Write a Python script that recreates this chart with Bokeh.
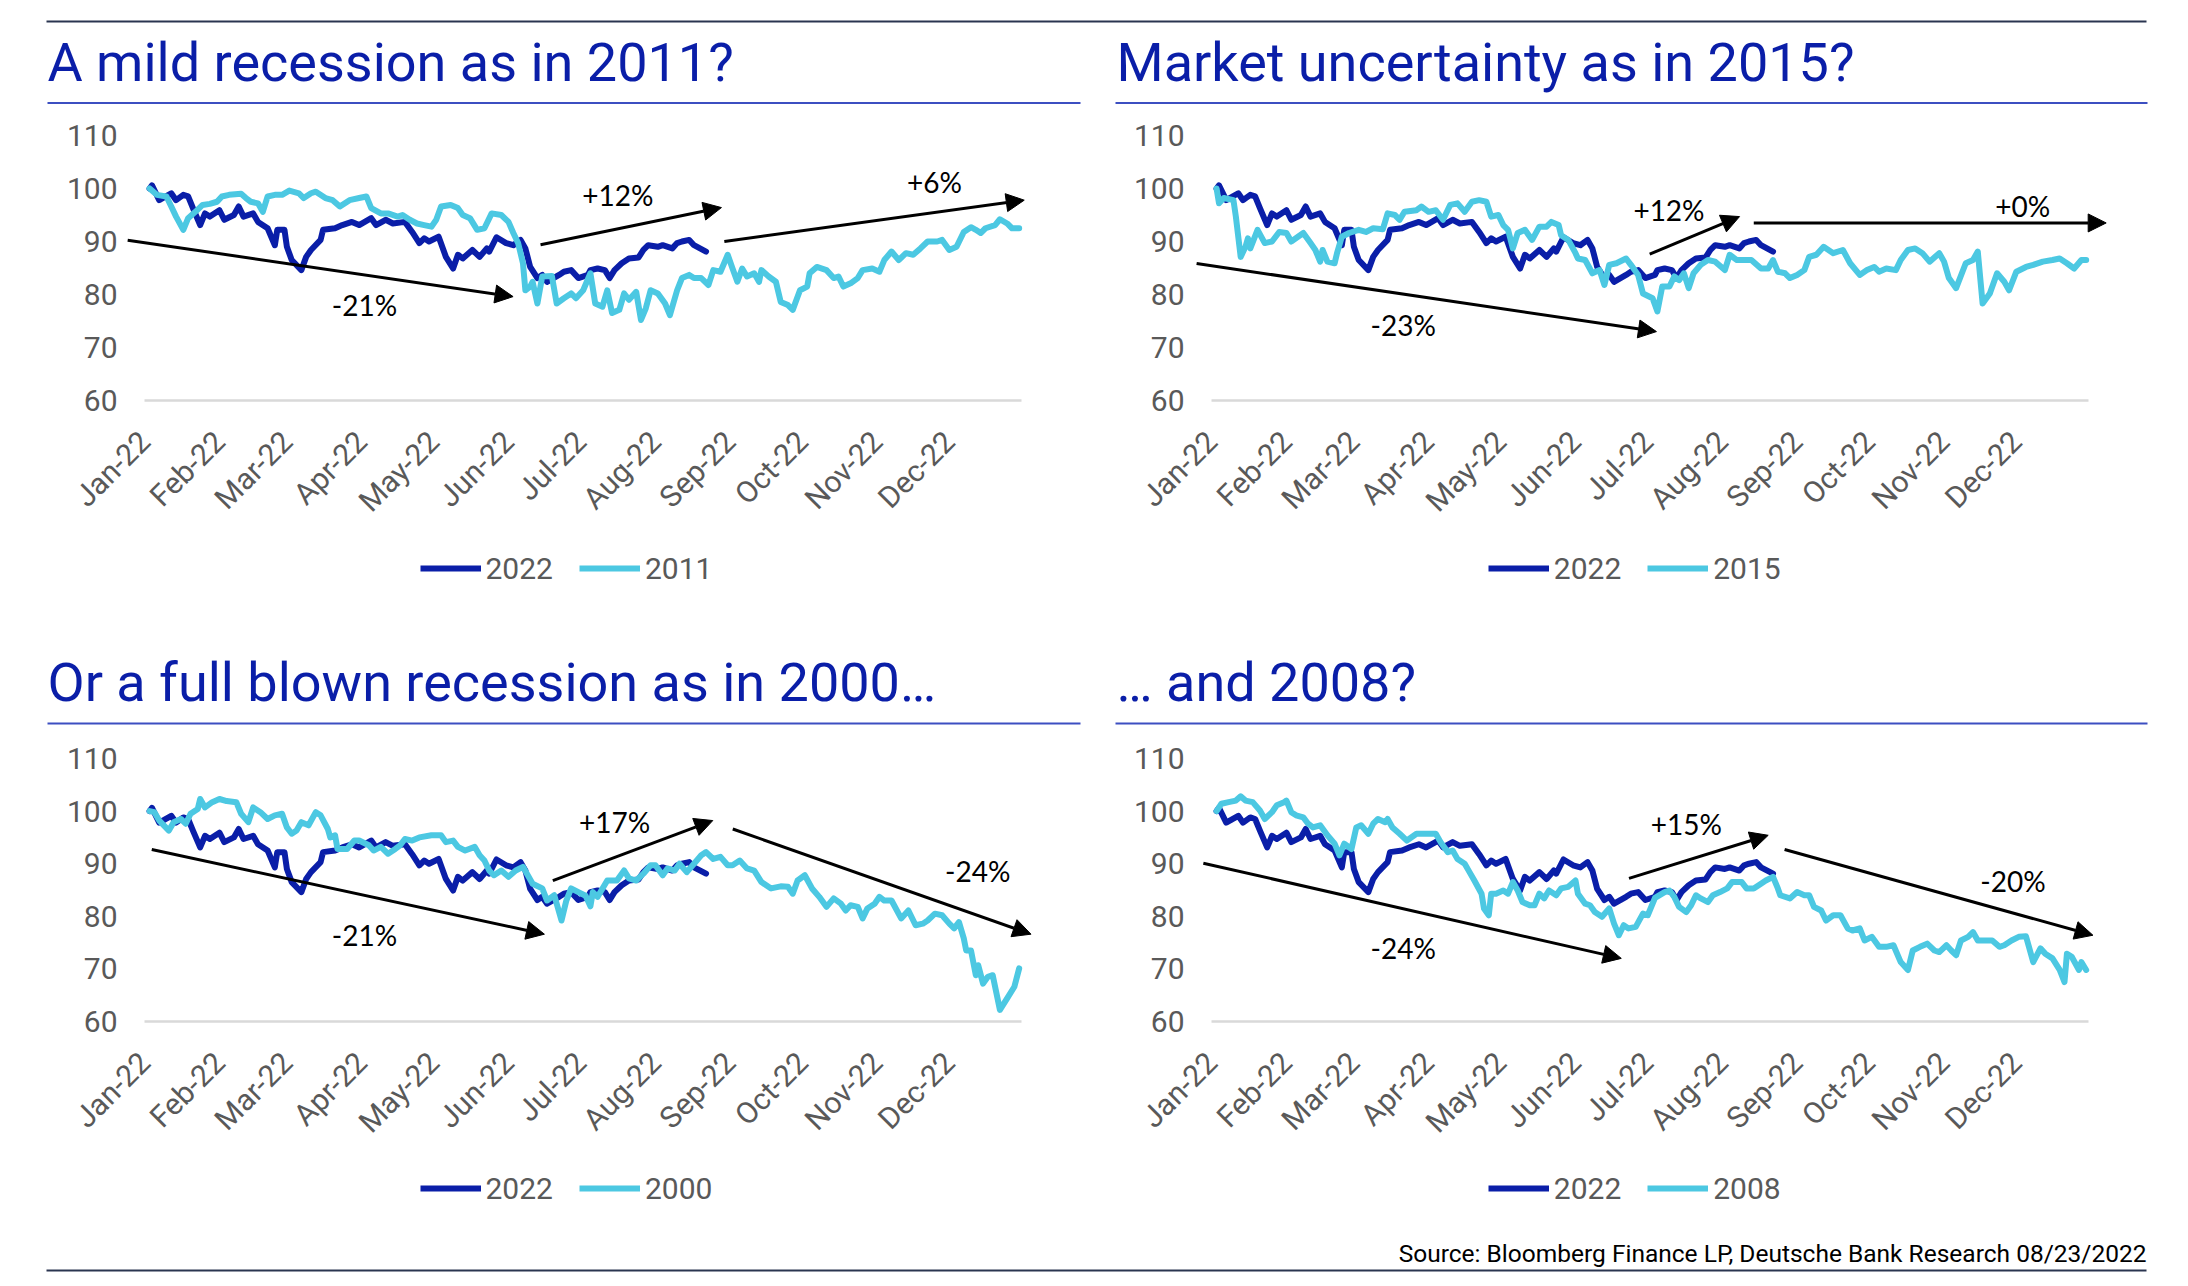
import datetime as dt
import math
from bokeh.plotting import figure
from bokeh.layouts import column, row
from bokeh.models import (Range1d, FixedTicker, DatetimeTickFormatter, Legend, LegendItem,
                          Arrow, NormalHead, Label)
from bokeh.core.properties import value
from bokeh.embed import file_html
from bokeh.resources import INLINE

# ---------------- data ----------------
S2022_DATES = ["01-03","01-04","01-07","01-12","01-14","01-17","01-19","01-21","01-24","01-26","01-28",
  "02-01","02-03","02-07","02-09","02-11","02-15","02-17","02-21","02-24","02-25","02-28",
  "03-01","03-03","03-07","03-09","03-11","03-15","03-16","03-21","03-24","03-28","03-31",
  "04-05","04-07","04-11","04-14","04-19","04-22","04-25","04-27","04-29",
  "05-03","05-06","05-09","05-11","05-13","05-17","05-20","05-23","05-24","05-27","05-31",
  "06-03","06-06","06-08","06-10","06-13","06-15","06-17","06-22","06-24","06-27","06-30",
  "07-04","07-05","07-08","07-11","07-13","07-15","07-18","07-21","07-25","07-27","07-29",
  "08-02","08-04","08-08","08-10","08-12","08-15","08-17","08-22"]
S2022_VALUES = [100.0,100.6,97.8,99.1,97.8,98.8,98.5,96.3,93.1,95.3,94.7,
  95.9,94.1,95.0,96.6,94.7,95.3,93.7,92.5,89.3,92.2,92.2,
  89.0,86.5,84.6,87.1,88.4,90.3,92.2,92.5,93.1,93.7,93.1,
  94.4,93.1,94.1,93.4,93.7,91.8,89.7,90.6,90.0,
  90.9,87.1,84.9,87.5,86.8,88.4,87.1,88.7,88.1,90.8,89.7,
  89.3,90.3,88.7,85.2,83.1,83.7,82.4,83.7,84.3,84.6,83.1,
  83.7,84.6,84.9,84.6,83.1,84.6,85.9,86.8,87.0,88.4,89.3,
  89.0,89.3,88.7,89.7,90.0,90.3,89.3,88.1]

H2011_DATES = ["01-03","01-06","01-10","01-12","01-14","01-17","01-19","01-22","01-25","01-28","01-31",
  "02-02","02-05","02-10","02-12","02-14","02-17","02-19","02-21","02-24","02-27",
  "03-02","03-06","03-08","03-11","03-13","03-17","03-20","03-23","03-27","03-31",
  "04-03","04-05","04-09","04-12","04-16","04-18","04-21","04-24","04-27","04-30",
  "05-02","05-04","05-08","05-11","05-13","05-16","05-19","05-22","05-25","05-29",
  "06-01","06-03","06-05","06-07","06-08","06-10","06-11","06-13","06-15","06-19","06-21","06-24","06-27","06-29",
  "07-02","07-05","07-07","07-10","07-12","07-14","07-17","07-19","07-21","07-24","07-26","07-28","07-30",
  "08-02","08-05","08-07","08-10","08-12","08-15","08-17","08-20","08-23","08-25","08-28","08-31",
  "09-02","09-04","09-06","09-08","09-11","09-13","09-14","09-17","09-20","09-22","09-25","09-27","09-30",
  "10-03","10-04","10-07","10-11","10-14","10-16","10-18","10-21","10-24","10-26","10-30",
  "11-02","11-04","11-07","11-10","11-13","11-16","11-19","11-22","11-26","11-28",
  "12-01","12-04","12-07","12-10","12-12","12-14","12-16","12-20","12-22","12-25","12-27","12-30"]
H2011_VALUES = [100.0,98.8,98.5,96.6,94.7,92.2,94.4,95.6,96.9,97.1,97.5,
  98.5,98.8,99.0,98.2,97.5,97.2,95.6,98.5,98.8,98.8,
  99.6,99.1,98.2,99.1,99.4,98.2,97.8,96.6,97.8,98.2,
  98.5,96.3,95.3,95.3,94.7,95.0,94.1,93.4,93.1,92.8,
  94.1,96.6,96.9,96.3,95.0,94.4,92.2,92.5,95.3,95.0,
  93.7,91.6,89.7,85.9,80.8,81.5,82.4,78.3,83.4,83.5,78.3,79.3,80.2,79.3,
  80.8,84.0,78.3,77.7,80.8,76.5,77.1,80.2,79.0,80.5,75.2,77.4,80.8,
  80.2,78.3,76.1,80.8,83.1,83.7,83.1,83.1,81.8,84.6,84.3,87.5,
  84.9,82.4,84.9,83.4,84.0,82.4,84.6,83.4,82.4,78.6,78.0,77.1,80.8,
  81.5,84.0,85.2,84.6,83.1,83.4,81.5,82.1,83.1,84.6,84.9,
  84.3,86.5,88.1,86.5,87.8,87.5,88.7,90.0,90.0,90.3,
  88.4,89.0,91.8,92.7,92.2,91.6,92.5,93.1,94.2,93.4,92.5,92.5]

H2015_DATES = ["01-03","01-04","01-06","01-10","01-11","01-13","01-15","01-16","01-17","01-20","01-23","01-26","01-29",
  "02-01","02-03","02-08","02-11","02-13","02-15","02-16","02-18","02-21","02-22","02-24","02-27",
  "03-03","03-06","03-09","03-13","03-15","03-18","03-20","03-22","03-27","03-29",
  "04-01","04-04","04-07","04-10","04-13","04-16","04-19","04-22","04-25","04-27","04-30",
  "05-02","05-04","05-06","05-08","05-11","05-14","05-17","05-20","05-22","05-25","05-26","05-29",
  "06-01","06-02","06-05","06-08","06-11","06-13","06-15","06-18","06-22","06-24","06-27","06-29",
  "07-03","07-05","07-07","07-10","07-12","07-14","07-16","07-18","07-20","07-23","07-26","07-29",
  "08-02","08-04","08-07","08-11","08-13","08-17","08-20","08-22","08-24","08-27","08-29",
  "09-01","09-04","09-06","09-09","09-12","09-16","09-20","09-23","09-27","09-30",
  "10-03","10-05","10-08","10-12","10-14","10-17","10-20","10-23","10-26","10-30",
  "11-01","11-03","11-06","11-10","11-13","11-15","11-17","11-20","11-23","11-26","11-28",
  "12-01","12-05","12-08","12-12","12-16","12-19","12-22","12-25","12-28","12-30"]
H2015_VALUES = [100.0,97.2,98.2,97.8,94.7,87.1,89.0,90.6,88.7,92.2,89.7,90.0,91.8,
  91.6,90.0,91.6,89.7,88.4,86.2,88.4,86.2,85.9,87.8,90.9,91.6,
  92.2,91.8,92.5,92.3,95.3,95.0,94.1,95.6,95.9,96.6,
  95.6,95.9,94.1,96.9,97.2,95.6,97.5,97.8,97.5,94.7,95.0,
  93.1,92.2,88.7,91.6,92.2,90.3,92.8,92.8,93.7,93.1,91.2,90.3,
  87.8,86.8,86.5,84.0,84.6,81.8,85.6,85.9,86.8,85.6,83.7,80.2,
  79.3,76.8,81.5,81.5,83.4,82.7,84.0,81.2,84.0,85.6,86.5,86.2,
  84.6,87.5,86.5,86.5,86.5,84.9,84.9,86.5,84.3,84.0,83.1,
  83.7,84.6,87.1,87.5,89.0,87.8,88.4,85.9,83.7,84.6,
  85.2,84.3,84.9,84.6,86.5,88.4,88.7,87.8,86.2,87.8,
  86.2,83.1,81.2,85.9,86.5,88.1,78.3,80.2,84.0,82.4,80.8,
  84.3,85.2,85.6,86.2,86.5,86.8,85.9,84.9,86.5,86.5]

H2000_DATES = ["01-03","01-05","01-07","01-11","01-13","01-16","01-18","01-20","01-23","01-24","01-26","01-29",
  "02-01","02-04","02-08","02-10","02-13","02-15","02-18","02-21","02-24","02-27",
  "03-01","03-03","03-05","03-07","03-10","03-13","03-15","03-18","03-19","03-21","03-22","03-26","03-29","03-31",
  "04-04","04-06","04-09","04-12","04-15","04-17","04-19","04-22","04-25","04-30",
  "05-04","05-06","05-09","05-11","05-14","05-18","05-20","05-22","05-24","05-26","05-29",
  "06-01","06-04","06-07","06-09","06-11","06-15","06-17","06-20","06-23","06-25","06-27","06-30",
  "07-03","07-05","07-06","07-08","07-12","07-16","07-19","07-21","07-24","07-27","07-30",
  "08-01","08-04","08-06","08-09","08-11","08-14","08-17","08-20","08-22","08-25","08-28","08-31",
  "09-02","09-05","09-08","09-11","09-14","09-18","09-22","09-25","09-27","09-29",
  "10-02","10-05","10-08","10-11","10-14","10-17","10-19","10-21","10-24","10-26","10-28","10-31",
  "11-02","11-04","11-07","11-11","11-14","11-17","11-20","11-22","11-25","11-28",
  "12-01","12-03","12-05","12-07","12-08","12-10","12-12","12-13","12-15","12-17","12-19","12-22","12-25","12-28","12-30"]
H2000_VALUES = [100.0,99.8,98.2,96.3,97.9,98.5,97.6,99.5,100.4,102.3,100.7,101.7,
  102.3,101.9,101.7,99.5,97.9,100.7,99.8,98.5,99.2,99.5,
  96.9,95.7,96.3,97.9,97.3,99.8,99.2,96.6,95.0,95.4,92.8,92.8,94.4,94.4,
  93.5,92.5,93.2,91.9,92.8,93.5,94.7,94.4,95.0,95.4,
  95.4,94.1,94.4,93.2,92.5,93.2,91.6,90.6,88.7,87.8,88.7,
  87.5,88.7,89.4,87.8,86.2,85.3,83.0,84.0,79.2,83.0,85.3,84.6,
  83.9,81.9,84.6,83.7,86.8,86.8,88.7,87.2,86.8,88.1,89.7,
  89.7,87.8,89.1,88.7,90.0,88.4,90.0,91.6,92.2,90.9,91.3,89.7,
  89.7,90.6,89.1,88.7,86.5,85.3,85.7,85.6,84.3,86.8,
  87.8,85.3,83.7,81.8,83.4,82.4,81.1,82.1,81.8,79.6,81.5,82.4,
  83.7,83.0,83.0,79.6,81.1,78.3,78.6,79.2,80.5,80.2,
  78.6,77.7,78.9,75.8,73.5,73.5,68.8,70.7,67.2,68.5,68.8,62.2,64.4,66.6,70.1]

H2008_DATES = ["01-03","01-05","01-08","01-11","01-13","01-15","01-18","01-21","01-23","01-26","01-28","01-31",
  "02-01","02-03","02-05","02-08","02-10","02-12","02-15","02-18","02-21","02-23","02-25","02-28",
  "03-02","03-04","03-07","03-09","03-11","03-14","03-15","03-17","03-20","03-23","03-27","03-31",
  "04-04","04-06","04-09","04-11","04-13","04-16","04-18","04-20","04-23","04-24","04-26","04-27","04-29",
  "05-02","05-04","05-06","05-08","05-10","05-13","05-15","05-17","05-19","05-21","05-24","05-26","05-29",
  "06-01","06-02","06-05","06-07","06-09","06-12","06-15","06-17","06-19","06-21","06-23","06-26","06-29",
  "07-01","07-04","07-08","07-10","07-12","07-14","07-17","07-19","07-21","07-23","07-26","07-28","07-31",
  "08-03","08-05","08-09","08-11","08-14","08-17","08-19","08-22","08-24","08-25","08-29",
  "09-01","09-04","09-06","09-08","09-11","09-13","09-16","09-19","09-22","09-24","09-27","09-29",
  "10-02","10-05","10-08","10-11","10-14","10-17","10-19","10-22","10-25","10-28","10-30",
  "11-02","11-04","11-06","11-08","11-11","11-13","11-15","11-18","11-21","11-24","11-26","11-29",
  "12-02","12-05","12-08","12-11","12-13","12-16","12-19","12-21","12-22","12-24","12-27","12-28","12-30"]
H2008_VALUES = [100.0,101.4,101.7,102.0,102.8,102.0,101.7,100.1,98.5,99.8,101.1,101.7,
  102.0,99.8,99.2,98.8,97.6,96.9,97.3,95.4,93.8,91.6,93.8,92.8,
  96.9,97.3,95.7,97.6,98.5,97.9,98.5,96.9,95.7,94.4,95.7,95.7,
  95.7,94.1,92.2,92.5,90.9,90.0,88.4,86.8,84.3,81.5,80.2,84.3,84.3,
  84.9,84.3,86.5,84.9,82.7,82.1,82.1,84.3,83.4,84.9,84.0,85.3,85.6,
  86.8,84.3,82.4,82.1,80.8,79.9,81.5,78.6,76.4,78.3,77.7,78.0,80.5,
  80.2,83.5,84.6,84.9,83.7,81.8,80.8,82.1,84.0,83.4,82.7,84.0,84.6,
  85.3,86.5,86.5,85.3,85.3,86.2,86.8,87.5,85.3,84.0,83.4,
  84.6,84.0,84.0,81.8,81.1,79.2,80.2,80.2,77.7,77.3,77.7,75.4,
  76.1,74.2,74.2,74.5,71.3,69.8,73.5,74.2,74.8,73.5,73.2,
  74.5,73.5,72.6,75.4,76.1,77.0,75.4,75.4,75.4,74.2,74.5,75.4,
  76.1,76.2,71.3,73.9,72.9,72.0,69.8,67.5,72.9,72.3,69.8,71.3,69.8]

Y_TICKS = [60, 70, 80, 90, 100, 110]
MONTH_FORMAT = "%b-%y"

TITLES = ["A mild recession as in 2011?", "Market uncertainty as in 2015?",
          "Or a full blown recession as in 2000\u2026", "\u2026 and 2008?"]
SOURCE = "Source: Bloomberg Finance LP, Deutsche Bank Research 08/23/2022"
CURRENT_NAME = "2022"

# arrow annotations: (start day offset from 1 Jan, start value, end day offset, end value)
ARROWS_2011 = [(-7.1, 90.25, 152.9, 79.6), (164.3, 89.4, 239.4, 96.4), (240.6, 90.0, 365.1, 97.8)]
NOTES_2011 = [("-21%", 91.2, 78.0), ("+12%", 196.4, 98.8), ("+6%", 327.8, 101.3)]
ARROWS_2015 = [(-6.3, 85.85, 184.6, 73.0), (181.8, 87.6, 219.1, 94.7), (225.0, 93.5, 371.3, 93.5)]
NOTES_2015 = [("-23%", 79.5, 74.2), ("+12%", 189.8, 96.0), ("+0%", 336.7, 96.7)]
ARROWS_2000 = [(2.9, 92.7, 165.9, 76.6), (169.4, 86.8, 235.8, 98.2), (244.1, 96.6, 367.9, 76.6)]
NOTES_2000 = [("-21%", 91.2, 76.4), ("+17%", 195.0, 97.9), ("-24%", 345.8, 88.7)]
ARROWS_2008 = [(-3.5, 90.1, 170.0, 72.0), (173.2, 87.2, 231.0, 95.4), (237.8, 92.7, 365.8, 76.4)]
NOTES_2008 = [("-24%", 79.5, 73.9), ("+15%", 197.0, 97.6), ("-20%", 332.6, 86.8)]

# ---------------- styling ----------------
DARK = "#0a1ea8"
LIGHT = "#4cc8e2"
TITLE_BLUE = "#0a1ea8"
RULE_BLUE = "#3c4fc1"
RULE_DARK = "#2a3550"
GRAY = "#595959"
AXIS_GRAY = "#d9d9d9"
FONT = "Roboto"
LINE_W = 6

EPOCH = dt.datetime(1970, 1, 1)
JAN1 = dt.datetime(2022, 1, 1)
DEC31 = dt.datetime(2022, 12, 31)
X_START = JAN1 - dt.timedelta(days=8)
X_END = dt.datetime(2023, 1, 12)


def to_date(mmdd):
    m, d = mmdd.split("-")
    return dt.datetime(2022, int(m), int(d))


def day_ms(off):
    return (JAN1 - EPOCH).total_seconds() * 1000.0 + off * 86400000.0


def ms(t):
    return (t - EPOCH).total_seconds() * 1000.0


MONTH_TICKS = [ms(dt.datetime(2022, m, 1)) for m in range(1, 13)]


def make_panel(hist_dates, hist_vals, arrows, notes, width, height, bl, br, bt, bb):
    p = figure(width=width, height=height, title=None, x_axis_type="datetime",
               x_range=Range1d(X_START, X_END), y_range=Range1d(60, 110),
               output_backend="svg", toolbar_location=None,
               min_border_left=bl, min_border_right=br, min_border_top=bt, min_border_bottom=bb)
    p.outline_line_color = None
    p.grid.visible = False
    p.background_fill_color = "white"
    p.border_fill_color = "white"

    p.line(x=[to_date(s) for s in S2022_DATES], y=S2022_VALUES, line_color=DARK,
           line_width=LINE_W, line_join="round", line_cap="round")
    p.line(x=[to_date(s) for s in hist_dates], y=hist_vals, line_color=LIGHT,
           line_width=LINE_W, line_join="round", line_cap="round")

    xa = p.xaxis[0]
    xa.bounds = (ms(JAN1), ms(DEC31))
    xa.ticker = FixedTicker(ticks=MONTH_TICKS)
    xa.formatter = DatetimeTickFormatter(microseconds=MONTH_FORMAT, milliseconds=MONTH_FORMAT,
                                         seconds=MONTH_FORMAT, minsec=MONTH_FORMAT,
                                         minutes=MONTH_FORMAT, hourmin=MONTH_FORMAT,
                                         hours=MONTH_FORMAT, days=MONTH_FORMAT,
                                         months=MONTH_FORMAT, years=MONTH_FORMAT,
                                         boundary_scaling=False)
    xa.major_label_orientation = math.pi / 4
    xa.axis_line_color = AXIS_GRAY
    xa.axis_line_width = 2.5
    xa.major_tick_line_color = None
    xa.minor_tick_line_color = None
    xa.major_tick_out = 0
    xa.major_tick_in = 0
    xa.major_label_standoff = 36
    xa.major_label_text_font = FONT
    xa.major_label_text_font_size = "30px"
    xa.major_label_text_color = GRAY

    ya = p.yaxis[0]
    ya.ticker = FixedTicker(ticks=Y_TICKS)
    ya.axis_line_color = None
    ya.major_tick_line_color = None
    ya.minor_tick_line_color = None
    ya.major_tick_out = 0
    ya.major_tick_in = 0
    ya.major_label_standoff = 8
    ya.major_label_text_font = FONT
    ya.major_label_text_font_size = "30px"
    ya.major_label_text_color = GRAY

    for (sd, sv, ed, ev) in arrows:
        p.add_layout(Arrow(end=NormalHead(size=18, fill_color="black", line_color="black", line_width=1),
                           x_start=day_ms(sd), y_start=sv, x_end=day_ms(ed), y_end=ev,
                           line_color="black", line_width=3))
    for (txt, d, v) in notes:
        p.add_layout(Label(x=day_ms(d), y=v, text=txt, text_align="center", text_baseline="middle",
                           text_font="Lato", text_font_size="28px", text_color="black"))
    return p


def make_strip(width, height):
    h = figure(width=width, height=height, title=None, x_range=Range1d(0, width), y_range=Range1d(height, 0),
               output_backend="svg", toolbar_location=None, x_axis_location=None, y_axis_location=None,
               min_border=0, min_border_left=0, min_border_right=0, min_border_top=0, min_border_bottom=0)
    h.grid.visible = False
    h.outline_line_color = None
    h.background_fill_color = "white"
    h.border_fill_color = "white"
    return h


def make_legend_strip(width, height, hist_name, leg_x, leg_y):
    s = make_strip(width, height)
    # legend keys styled exactly like the two series of the panel above (kept outside the strip's view)
    k1 = s.line(x=[-60, -50], y=[-60, -60], line_color=DARK, line_width=LINE_W, line_cap="butt")
    k2 = s.line(x=[-60, -50], y=[-60, -60], line_color=LIGHT, line_width=LINE_W, line_cap="butt")
    lg = Legend(items=[LegendItem(label=CURRENT_NAME, renderers=[k1]),
                       LegendItem(label=hist_name, renderers=[k2])],
                orientation="horizontal", location=(leg_x, leg_y),
                glyph_width=61, glyph_height=36, label_height=36, label_standoff=5, spacing=26,
                padding=0, margin=0, border_line_color=None, background_fill_alpha=0,
                label_text_font=FONT, label_text_font_size="30px", label_text_color=GRAY)
    s.add_layout(lg)
    return s


W = 2186
# header above the top row (page y 0..115)
h1 = make_strip(W, 115)
h1.segment(x0=[46], y0=[21], x1=[2146], y1=[21], line_color=RULE_DARK, line_width=2)
h1.text(x=[47, 1116], y=[62, 62], text=[TITLES[0], TITLES[1]], text_font=value(FONT),
        text_font_size=value("54px"), text_color=TITLE_BLUE, text_baseline="alphabetic", text_align="left")
h1.segment(x0=[47, 1115], y0=[102.4, 102.4], x1=[1080, 2147], y1=[102.4, 102.4],
           line_color=RULE_BLUE, line_width=2)

# top row plots (page y 115..540), frame 135..400
p1 = make_panel(H2011_DATES, H2011_VALUES, ARROWS_2011, NOTES_2011, 1098, 425, 125, 48, 20, 140)
p2 = make_panel(H2015_DATES, H2015_VALUES, ARROWS_2015, NOTES_2015, 1088, 425, 94, 69, 20, 140)
# top row legends (page y 540..600)
l1 = make_legend_strip(1098, 60, "2011", 419.5, 14)
l2 = make_legend_strip(1088, 60, "2015", 389.8, 14)

# header between rows (page y 600..738)
h2 = make_strip(W, 138)
h2.text(x=[47, 1116], y=[82, 82], text=[TITLES[2], TITLES[3]], text_font=value(FONT),
        text_font_size=value("54px"), text_color=TITLE_BLUE, text_baseline="alphabetic", text_align="left")
h2.segment(x0=[47, 1115], y0=[123, 123], x1=[1080, 2147], y1=[123, 123], line_color=RULE_BLUE, line_width=2)

# bottom row plots (page y 738..1161), frame 758..1021
p3 = make_panel(H2000_DATES, H2000_VALUES, ARROWS_2000, NOTES_2000, 1098, 423, 125, 48, 20, 140)
p4 = make_panel(H2008_DATES, H2008_VALUES, ARROWS_2008, NOTES_2008, 1088, 423, 94, 69, 20, 140)
# bottom row legends (page y 1161..1230)
l3 = make_legend_strip(1098, 69, "2000", 419.5, 24)
l4 = make_legend_strip(1088, 69, "2008", 389.8, 24)

# footer (page y 1230..1284)
foot = make_strip(W, 54)
foot.text(x=[2146], y=[23], text=[SOURCE], text_font=value(FONT), text_font_size=value("24.5px"),
          text_color="black", text_baseline="alphabetic", text_align="right")
foot.segment(x0=[46], y0=[40], x1=[2146], y1=[40], line_color=RULE_DARK, line_width=2)

layout = column(h1, row(p1, p2, spacing=0), row(l1, l2, spacing=0), h2,
                row(p3, p4, spacing=0), row(l3, l4, spacing=0), foot, spacing=0)

open("out.html", "w").write(file_html(layout, INLINE))
